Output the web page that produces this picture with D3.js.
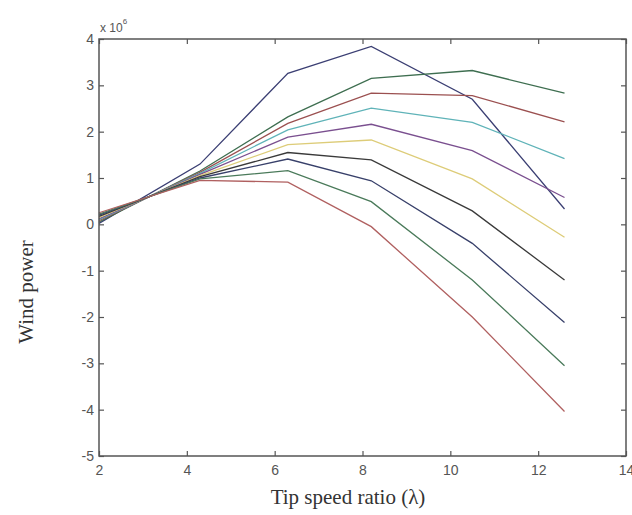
<!DOCTYPE html>
<html>
<head>
<meta charset="utf-8">
<script src="https://cdn.jsdelivr.net/npm/d3@7"></script>
<style>
  body { margin: 0; background: #fff; }
  .tick text { font-family: Arial, "Liberation Sans", sans-serif; font-size: 14px; fill: #555; }
  .label { font-family: "Times New Roman", "Liberation Serif", serif; font-size: 21px; fill: #333; }
</style>
</head>
<body>
<div id="chart"></div>
<script>
// tip speed ratio samples
const lambda = [2, 4.3, 6.3, 8.2, 10.5, 12.6];

// wind power curves (x 10^6), one per run
const curve1 = [0.02, 1.30, 3.26, 3.84, 2.70, 0.33];
const curve2 = [0.05, 1.15, 2.32, 3.15, 3.32, 2.83];
const curve3 = [0.08, 1.12, 2.18, 2.83, 2.78, 2.21];
const curve4 = [0.10, 1.10, 2.04, 2.51, 2.20, 1.42];
const curve5 = [0.12, 1.08, 1.88, 2.16, 1.59, 0.58];
const curve6 = [0.15, 1.05, 1.72, 1.82, 0.98, -0.28];
const curve7 = [0.17, 1.03, 1.55, 1.39, 0.29, -1.20];
const curve8 = [0.20, 1.00, 1.41, 0.94, -0.41, -2.12];
const curve9 = [0.22, 0.98, 1.16, 0.49, -1.20, -3.05];
const curve10 = [0.25, 0.95, 0.91, -0.05, -2.00, -4.04];

const curves = [curve1, curve2, curve3, curve4, curve5, curve6, curve7, curve8, curve9, curve10];
// matlab default order, washed out like the scan
const colors = ["#3b3f73", "#3e6e50", "#9b5050", "#5fb3b8", "#7a4f8f",
                "#ddcc78", "#3a3a3a", "#38406a", "#4a7a5a", "#b06060"];

const xTicks = [2, 4, 6, 8, 10, 12, 14];
const yTicks = [-5, -4, -3, -2, -1, 0, 1, 2, 3, 4];

const W = 632, H = 515;
const MARGIN = { TOP: 39, BOTTOM: 59, LEFT: 99, RIGHT: 6 };
const WIDTH = W - MARGIN.LEFT - MARGIN.RIGHT;
const HEIGHT = H - MARGIN.TOP - MARGIN.BOTTOM;

const svg = d3.select("#chart").append("svg")
    .attr("width", W)
    .attr("height", H);

const g = svg.append("g")
    .attr("transform", `translate(${MARGIN.LEFT}, ${MARGIN.TOP})`);

const x = d3.scaleLinear().domain([2, 14]).range([0, WIDTH]);
const y = d3.scaleLinear().domain([-5, 4]).range([HEIGHT, 0]);

// lines first, axes drawn over
const line = d3.line()
    .x((d, i) => x(lambda[i]))
    .y(d => y(d));

g.selectAll(".curve")
  .data(curves)
  .enter().append("path")
    .attr("class", "curve")
    .attr("d", line)
    .attr("fill", "none")
    .attr("stroke", (d, i) => colors[i])
    .attr("stroke-width", 1.3);

const fmt = d => String(d);

const xAxis = g.append("g")
    .attr("transform", `translate(0, ${HEIGHT})`)
    .call(d3.axisBottom(x).tickValues(xTicks).tickFormat(fmt).tickSizeInner(-5).tickSizeOuter(0).tickPadding(9));
const yAxis = g.append("g")
    .call(d3.axisLeft(y).tickValues(yTicks).tickFormat(fmt).tickSizeInner(-5).tickSizeOuter(0).tickPadding(5));
const topAxis = g.append("g")
    .call(d3.axisTop(x).tickValues(xTicks).tickFormat("").tickSizeInner(-5).tickSizeOuter(0));
const rightAxis = g.append("g")
    .attr("transform", `translate(${WIDTH}, 0)`)
    .call(d3.axisRight(y).tickValues(yTicks).tickFormat("").tickSizeInner(-5).tickSizeOuter(0));

[xAxis, yAxis, topAxis, rightAxis].forEach(a => {
  a.selectAll("path.domain").remove();
  a.selectAll(".tick line").attr("stroke", "#555").attr("stroke-width", 1.2);
});

// box
g.append("rect")
    .attr("width", WIDTH)
    .attr("height", HEIGHT)
    .attr("fill", "none")
    .attr("stroke", "#555")
    .attr("stroke-width", 1.5);

// exponent marker
const expo = g.append("text")
    .attr("x", 1)
    .attr("y", -7)
    .attr("font-family", "Arial, 'Liberation Sans', sans-serif")
    .attr("font-size", 12)
    .attr("fill", "#555");
expo.append("tspan").text("x 10");
expo.append("tspan").attr("dy", -8).attr("font-size", 8).text("6");

svg.append("text")
    .attr("class", "label")
    .attr("x", 348)
    .attr("y", 504)
    .attr("text-anchor", "middle")
    .text("Tip speed ratio (λ)");

svg.append("text")
    .attr("class", "label")
    .attr("transform", "translate(33, 292) rotate(-90)")
    .attr("text-anchor", "middle")
    .text("Wind power");
</script>
</body>
</html>
